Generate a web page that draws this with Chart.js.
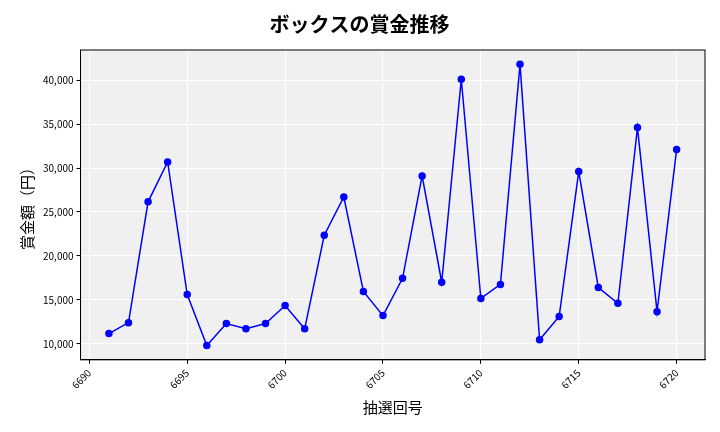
<!DOCTYPE html>
<html>
<head>
<meta charset="utf-8">
<script src="https://cdn.jsdelivr.net/npm/chart.js@4"></script>
<style>
  body { margin: 0; background: #fff; }
  #wrap { width: 720px; height: 432px; }
</style>
</head>
<body>
<div id="wrap"><canvas id="chart"></canvas></div>
<script>
// 抽選回号と賞金額
const rounds = [6691, 6692, 6693, 6694, 6695, 6696, 6697, 6698, 6699, 6700,
                6701, 6702, 6703, 6704, 6705, 6706, 6707, 6708, 6709, 6710,
                6711, 6712, 6713, 6714, 6715, 6716, 6717, 6718, 6719, 6720];
const prizes = [11150, 12400, 26150, 30700, 15600, 9800, 12300, 11700, 12300, 14350,
                11700, 22350, 26700, 15950, 13200, 17450, 29100, 17000, 40100, 15150,
                16750, 41800, 10450, 13100, 29600, 16400, 14600, 34600, 13650, 32100];

const FONT = "'Noto Sans CJK JP', 'Noto Sans', sans-serif";

// プロット領域の背景と枠
const plotBg = {
    id: "plotBg",
    beforeDraw(chart) {
        const { ctx, chartArea: a } = chart;
        ctx.save();
        ctx.fillStyle = "#f0f0f0";
        ctx.fillRect(a.left, a.top, a.right - a.left, a.bottom - a.top);
        ctx.restore();
    },
    afterDatasetsDraw(chart) {
        const { ctx, chartArea: a } = chart;
        ctx.save();
        ctx.strokeStyle = "#000";
        ctx.lineWidth = 1;
        ctx.strokeRect(a.left, a.top, a.right - a.left, a.bottom - a.top);
        ctx.restore();
    }
};

new Chart(document.getElementById("chart"), {
    type: "line",
    data: {
        datasets: [{
            data: rounds.map((r, i) => ({ x: r, y: prizes[i] })),
            borderColor: "#0000ff",
            backgroundColor: "#0000ff",
            borderWidth: 1.5,
            pointRadius: 3,
            tension: 0
        }]
    },
    options: {
        responsive: true,
        maintainAspectRatio: false,
        animation: false,
        layout: { padding: { left: 14, right: 15, top: 6, bottom: 12 } },
        plugins: {
            legend: { display: false },
            tooltip: { enabled: false },
            title: {
                display: true,
                text: "ボックスの賞金推移",
                color: "#000",
                font: { family: FONT, size: 20, weight: "bold" },
                padding: { top: 6, bottom: 14 }
            }
        },
        scales: {
            x: {
                type: "linear",
                min: 6689.55,
                max: 6721.45,
                afterBuildTicks(axis) {
                    axis.ticks = [6690, 6695, 6700, 6705, 6710, 6715, 6720].map(v => ({ value: v }));
                },
                grid: { color: "#ffffff", lineWidth: 1, drawTicks: true, tickColor: "#000", tickLength: 4 },
                border: { color: "#000" },
                ticks: {
                    color: "#000",
                    font: { family: FONT, size: 10 },
                    maxRotation: 45,
                    minRotation: 45,
                    callback: v => String(v)
                },
                title: {
                    display: true,
                    text: "抽選回号",
                    color: "#000",
                    font: { family: FONT, size: 15 }
                }
            },
            y: {
                min: 8168,
                max: 43435,
                afterBuildTicks(axis) {
                    axis.ticks = [10000, 15000, 20000, 25000, 30000, 35000, 40000].map(v => ({ value: v }));
                },
                grid: { color: "#ffffff", lineWidth: 1, tickColor: "#000", tickLength: 4 },
                border: { color: "#000" },
                ticks: {
                    color: "#000",
                    font: { family: FONT, size: 10 },
                    callback: v => v.toLocaleString("en-US")
                },
                title: {
                    display: true,
                    text: "賞金額（円）",
                    color: "#000",
                    font: { family: FONT, size: 15 }
                }
            }
        }
    },
    plugins: [plotBg]
});
</script>
</body>
</html>
